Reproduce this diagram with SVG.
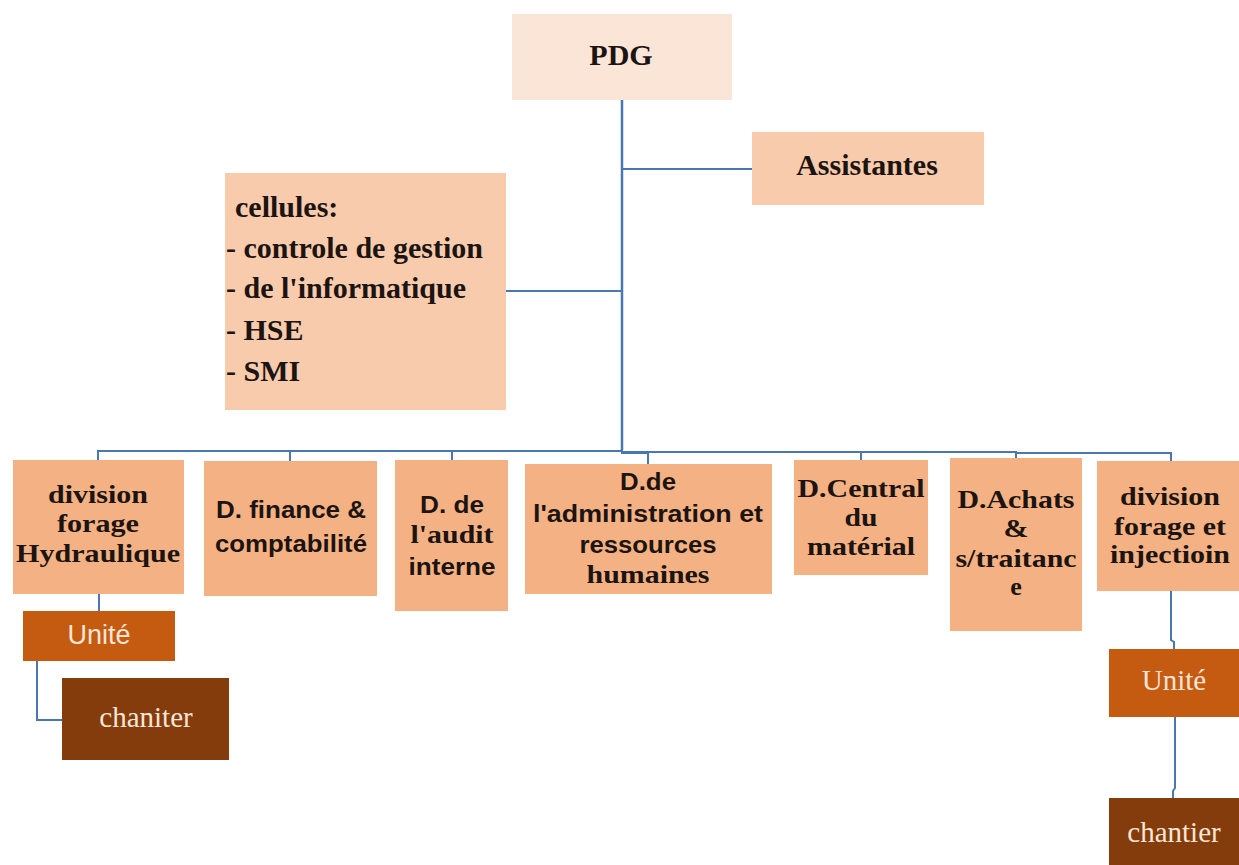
<svg xmlns="http://www.w3.org/2000/svg" width="1239" height="865" viewBox="0 0 1239 865">
<style>
.serif{font-family:"Liberation Serif","Times New Roman",serif;font-weight:bold;font-size:30px;fill:#1c1410;text-anchor:middle}
.s2{font-family:"Liberation Serif","Times New Roman",serif;font-weight:bold;font-size:26px;fill:#1c1410;text-anchor:middle}
.sans{font-family:"Liberation Sans",Arial,sans-serif;font-weight:bold;font-size:23px;fill:#1c1410;text-anchor:middle}
.light{fill:#f8cbad}
.main{fill:#f4b183}
.top{fill:#fbe5d6}
.unit{fill:#c55a11}
.site{fill:#843c0c}
.wt{font-family:"Liberation Serif","Times New Roman",serif;font-size:29px;fill:#fbe5d6;text-anchor:middle}
.wts{font-family:"Liberation Sans",Arial,sans-serif;font-size:27px;fill:#fbe5d6;text-anchor:middle}
.conn{fill:none;stroke:#4a78ae;stroke-width:2}
</style>
<rect width="1239" height="865" fill="#ffffff"/>
<g id="connectors">
<path class="conn" d="M622 100 V450" style="stroke-width:2.5"/>
<path class="conn" d="M622 169 H752"/>
<path class="conn" d="M506 291 H622"/>
<path class="conn" d="M98 460 V451 H622"/>
<path class="conn" d="M290 451 V461"/>
<path class="conn" d="M452 451 V460"/>
<path class="conn" d="M622 450 V453 H648 V464"/>
<path class="conn" d="M622 452 H1016 V458"/>
<path class="conn" d="M861 452 V460"/>
<path class="conn" d="M1016 453 H1171 V461"/>
<path class="conn" d="M99 594 V611"/>
<path class="conn" d="M37 660 V720 H62"/>
<path class="conn" d="M1171 591 V640 L1174 642 V649"/>
<path class="conn" d="M1175 717 V788 L1173 791 V798"/>
</g>
<g id="pdg">
<rect class="top" x="512" y="14" width="220" height="86"/>
<text class="serif" x="621" y="65">PDG</text>
</g>
<g id="assistantes">
<rect class="light" x="752" y="132" width="232" height="73"/>
<text class="serif" x="867" y="175">Assistantes</text>
</g>
<g id="cellules">
<rect class="light" x="225" y="173" width="281" height="237"/>
<text class="serif" style="text-anchor:start" x="235" y="217">cellules:</text>
<text class="serif" style="text-anchor:start" x="226" y="258">- controle de gestion</text>
<text class="serif" style="text-anchor:start" x="226" y="298">- de l'informatique</text>
<text class="serif" style="text-anchor:start" x="226" y="340">- HSE</text>
<text class="serif" style="text-anchor:start" x="226" y="381">- SMI</text>
</g>
<g id="div-hydraulique">
<rect class="main" x="13" y="460" width="171" height="134"/>
<text class="s2" x="98" y="503" textLength="100" lengthAdjust="spacingAndGlyphs">division</text>
<text class="s2" x="98" y="532" textLength="82" lengthAdjust="spacingAndGlyphs">forage</text>
<text class="s2" x="98" y="562" textLength="164" lengthAdjust="spacingAndGlyphs">Hydraulique</text>
</g>
<g id="d-finance">
<rect class="main" x="204" y="461" width="173" height="135"/>
<text class="sans" x="291" y="518" textLength="150" lengthAdjust="spacingAndGlyphs">D. finance &amp;</text>
<text class="sans" x="291" y="552" textLength="152" lengthAdjust="spacingAndGlyphs">comptabilité</text>
</g>
<g id="d-audit">
<rect class="main" x="395" y="460" width="113" height="151"/>
<text class="sans" x="452" y="513" textLength="64" lengthAdjust="spacingAndGlyphs">D. de</text>
<text class="s2" x="452" y="543" textLength="83" lengthAdjust="spacingAndGlyphs">l'audit</text>
<text class="sans" x="452" y="575" textLength="87" lengthAdjust="spacingAndGlyphs">interne</text>
</g>
<g id="d-admin">
<rect class="main" x="525" y="464" width="247" height="130"/>
<text class="sans" x="648" y="490" textLength="56" lengthAdjust="spacingAndGlyphs">D.de</text>
<text class="sans" x="648" y="522" textLength="230" lengthAdjust="spacingAndGlyphs">l'administration et</text>
<text class="sans" x="648" y="553" textLength="137" lengthAdjust="spacingAndGlyphs">ressources</text>
<text class="s2" x="648" y="583" textLength="123" lengthAdjust="spacingAndGlyphs">humaines</text>
</g>
<g id="d-central">
<rect class="main" x="794" y="460" width="134" height="115"/>
<text class="s2" x="861" y="497" textLength="127" lengthAdjust="spacingAndGlyphs">D.Central</text>
<text class="s2" x="861" y="526" textLength="33" lengthAdjust="spacingAndGlyphs">du</text>
<text class="s2" x="861" y="555" textLength="108" lengthAdjust="spacingAndGlyphs">matérial</text>
</g>
<g id="d-achats">
<rect class="main" x="950" y="458" width="132" height="173"/>
<text class="s2" x="1016" y="508" textLength="117" lengthAdjust="spacingAndGlyphs">D.Achats</text>
<text class="s2" x="1016" y="537" textLength="25" lengthAdjust="spacingAndGlyphs">&amp;</text>
<text class="s2" x="1016" y="567" textLength="121" lengthAdjust="spacingAndGlyphs">s/traitanc</text>
<text class="s2" x="1016" y="595">e</text>
</g>
<g id="div-injection">
<rect class="main" x="1097" y="461" width="142" height="130"/>
<text class="s2" x="1170" y="505" textLength="100" lengthAdjust="spacingAndGlyphs">division</text>
<text class="s2" x="1170" y="535" textLength="112" lengthAdjust="spacingAndGlyphs">forage et</text>
<text class="s2" x="1170" y="563" textLength="120" lengthAdjust="spacingAndGlyphs">injectioin</text>
</g>
<g id="unite-left">
<rect class="unit" x="23" y="611" width="152" height="50"/>
<text class="wts" x="99" y="644">Unité</text>
</g>
<g id="chaniter">
<rect class="site" x="62" y="678" width="167" height="82"/>
<text class="wt" x="146" y="727">chaniter</text>
</g>
<g id="unite-right">
<rect class="unit" x="1109" y="649" width="130" height="68"/>
<text class="wt" x="1174" y="690">Unité</text>
</g>
<g id="chantier">
<rect class="site" x="1109" y="798" width="130" height="67"/>
<text class="wt" x="1174" y="842">chantier</text>
</g>
</svg>
